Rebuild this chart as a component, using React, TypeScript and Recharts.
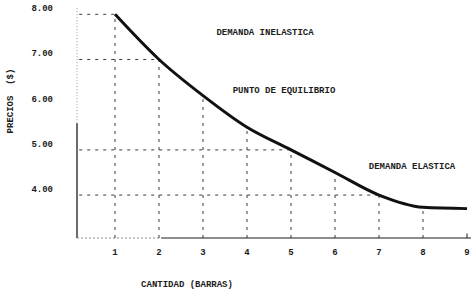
import { LineChart, Line, XAxis, YAxis, ReferenceLine } from 'recharts';

// cantidad (barras) y precio ($)
const quantities = [1, 2, 3, 4, 5, 6, 7, 8, 9];
const prices = [8.0, 7.0, 6.2, 5.5, 5.0, 4.5, 4.0, 3.73, 3.7];
const priceTicks = [4, 5, 6, 7, 8];
const quantityTicks = [1, 2, 3, 4, 5, 6, 7, 8, 9];
// niveles de precio con linea horizontal punteada
const guideLevels = [8, 7, 5, 4];

const data = quantities.map((q, i) => ({ q, price: prices[i] }));

const X_MIN = 0.136;
const X_MAX = 9.09;
const Y_MIN = 3.05;
const Y_MAX = 8.25;

const FONT = '"Liberation Mono", "DejaVu Sans Mono", monospace';
const INK = '#1c1c1c';
const GUIDE = '#3a3a3a';

const txt = {
  fontFamily: FONT,
  fontSize: 9,
  fontWeight: 700,
  fill: INK,
  whiteSpace: 'pre' as const,
};

function PriceTick({ x, y, payload }: any) {
  return (
    <text x={x} y={y - 5} textAnchor="end" dominantBaseline="central" style={txt}>
      {Number(payload.value).toFixed(2)}
    </text>
  );
}

export default function App() {
  return (
    <div style={{ position: 'absolute', left: 0, top: 0, width: 474, height: 289, background: '#fff' }}>
      <LineChart width={474} height={289} data={data} margin={{ top: 3, right: 3, bottom: 0, left: 0 }}>
        <XAxis
          dataKey="q"
          type="number"
          domain={[X_MIN, X_MAX]}
          allowDataOverflow
          ticks={quantityTicks}
          axisLine={false}
          tickLine={false}
          tickSize={0}
          tickMargin={11}
          height={51}
          tick={{ ...txt }}
        />
        <YAxis
          type="number"
          domain={[Y_MIN, Y_MAX]}
          allowDataOverflow
          ticks={priceTicks}
          axisLine={false}
          tickLine={false}
          tickSize={0}
          tickMargin={24}
          width={77}
          tick={<PriceTick />}
        />

        {/* ejes */}
        <ReferenceLine
          segment={[{ x: X_MIN, y: Y_MIN }, { x: X_MIN, y: 5.59 }]}
          stroke={INK}
          strokeWidth={1.3}
          ifOverflow="visible"
        />
        <ReferenceLine
          segment={[{ x: X_MIN, y: 5.59 }, { x: X_MIN, y: 8.15 }]}
          stroke="#9a9a9a"
          strokeDasharray="1 2"
          ifOverflow="visible"
        />
        <ReferenceLine
          segment={[{ x: X_MIN, y: Y_MIN }, { x: 2.05, y: Y_MIN }]}
          stroke="#8a8a8a"
          strokeDasharray="2 2"
          ifOverflow="visible"
        />
        <ReferenceLine
          segment={[{ x: 2.05, y: Y_MIN }, { x: X_MAX, y: Y_MIN }]}
          stroke={INK}
          strokeWidth={1.2}
          ifOverflow="visible"
        />
        <ReferenceLine
          segment={[{ x: 9, y: Y_MIN }, { x: 9, y: Y_MIN + 0.1 }]}
          stroke={INK}
          ifOverflow="visible"
        />

        {/* guias verticales desde la curva */}
        {data.slice(0, -1).map((d) => (
          <ReferenceLine
            key={'v' + d.q}
            segment={[{ x: d.q, y: Y_MIN }, { x: d.q, y: d.price }]}
            stroke={GUIDE}
            strokeDasharray="3 5"
            ifOverflow="visible"
          />
        ))}

        {/* guias horizontales a los niveles de precio */}
        {guideLevels.map((lvl) => {
          const pt = data.find((d) => d.price === lvl);
          if (!pt) return null;
          return (
            <ReferenceLine
              key={'h' + lvl}
              segment={[{ x: X_MIN + 0.05, y: lvl }, { x: pt.q, y: lvl }]}
              stroke={GUIDE}
              strokeDasharray="3 5"
              ifOverflow="visible"
            />
          );
        })}

        <Line
          type="monotone"
          dataKey="price"
          stroke="#111"
          strokeWidth={3}
          dot={false}
          isAnimationActive={false}
        />
      </LineChart>

      <svg width={474} height={289} style={{ position: 'absolute', left: 0, top: 0, pointerEvents: 'none' }}>
        <text x={11} y={101} transform="rotate(-90 11 101)" textAnchor="middle" dominantBaseline="central" style={txt}>
          {'PRECIOS  ($)'}
        </text>
        <text x={187} y={285} textAnchor="middle" dominantBaseline="central" style={txt}>
          CANTIDAD (BARRAS)
        </text>
        <text x={265} y={33} textAnchor="middle" dominantBaseline="central" style={txt}>
          DEMANDA INELASTICA
        </text>
        <text x={284} y={91} textAnchor="middle" dominantBaseline="central" style={txt}>
          PUNTO DE EQUILIBRIO
        </text>
        <text x={412} y={167} textAnchor="middle" dominantBaseline="central" style={txt}>
          DEMANDA ELASTICA
        </text>
      </svg>
    </div>
  );
}
